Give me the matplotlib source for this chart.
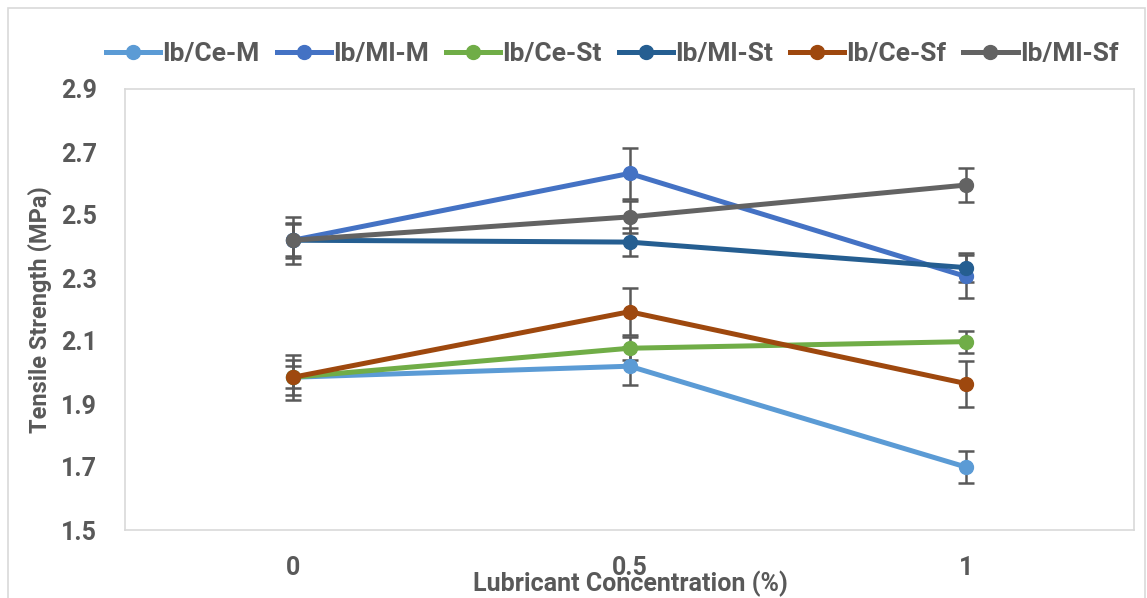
import matplotlib
matplotlib.use("Agg")
import matplotlib.pyplot as plt
from matplotlib.patches import Rectangle

plt.rcParams['font.family'] = ['Roboto', 'DejaVu Sans']

categories = ["0", "0.5", "1"]
series_names = ["Ib/Ce-M", "Ib/Ml-M", "Ib/Ce-St", "Ib/Ml-St", "Ib/Ce-Sf", "Ib/Ml-Sf"]
colors = ["#5B9BD5", "#4472C4", "#70AD47", "#255E91", "#9E480E", "#636363"]

ce_m = [1.985, 2.020, 1.700]
ml_m = [2.420, 2.632, 2.305]
ce_st = [1.985, 2.077, 2.098]
ml_st = [2.420, 2.414, 2.333]
ce_sf = [1.985, 2.193, 1.965]
ml_sf = [2.420, 2.494, 2.595]

err_ce_m = [0.035, 0.060, 0.050]
err_ml_m = [0.075, 0.080, 0.068]
err_ce_st = [0.055, 0.037, 0.035]
err_ml_st = [0.050, 0.045, 0.045]
err_ce_sf = [0.072, 0.075, 0.073]
err_ml_sf = [0.055, 0.050, 0.053]

values = [ce_m, ml_m, ce_st, ml_st, ce_sf, ml_sf]
errors = [err_ce_m, err_ml_m, err_ce_st, err_ml_st, err_ce_sf, err_ml_sf]

W, H = 1147, 598
fig = plt.figure(figsize=(W / 100, H / 100), dpi=100)
ax = fig.add_axes([125 / W, (H - 530) / H, (1134 - 125) / W, (530 - 89) / H])

x = list(range(len(categories)))
txt = "#595959"
handles = []
for name, vals, errs, c in zip(series_names, values, errors, colors):
    ax.errorbar(x, vals, yerr=errs, fmt='none', ecolor="#595959", elinewidth=1.8,
                capsize=5.8, capthick=1.8, zorder=2)
    h, = ax.plot(x, vals, color=c, lw=3.6, marker='o', ms=10, label=name, zorder=3)
    handles.append(h)

ax.set_xlim(-0.5, 2.5)
ax.set_ylim(1.5, 2.9)
ax.set_xticks(x)
ax.set_xticklabels(categories)
ax.set_yticks([1.5, 1.7, 1.9, 2.1, 2.3, 2.5, 2.7, 2.9])
ax.set_yticklabels(["1.5", "1.7", "1.9", "2.1", "2.3", "2.5", "2.7", "2.9"])
ax.tick_params(length=0, labelsize=18, labelcolor=txt)
ax.tick_params(axis='x', pad=19)
ax.tick_params(axis='y', pad=20)
for lab in ax.get_xticklabels() + ax.get_yticklabels():
    lab.set_fontweight('bold')
for s in ax.spines.values():
    s.set_color("#D9D9D9")
    s.set_linewidth(1.2)

fig.text(630 / W, 1 - 584 / H, "Lubricant Concentration (%)", ha='center', va='center',
         fontsize=18, fontweight='bold', color=txt)
fig.text(40 / W, 1 - 310 / H, "Tensile Strength (MPa)", ha='center', va='center',
         rotation=90, fontsize=17, fontweight='bold', color=txt)

fig.legend(handles=handles, loc='center', bbox_to_anchor=(612 / W, 1 - 54 / H), ncol=6,
           frameon=False, handlelength=2.05, handletextpad=0.08,
           columnspacing=0.65, prop={'weight': 'bold', 'size': 19}, labelcolor=txt)

fig.patches.append(Rectangle((8 / W, -0.02), (1145 - 8) / W, 1.02 - 8 / H,
                             transform=fig.transFigure, fill=False,
                             edgecolor="#D9D9D9", lw=1.2))

fig.savefig("out.png", dpi=100)
